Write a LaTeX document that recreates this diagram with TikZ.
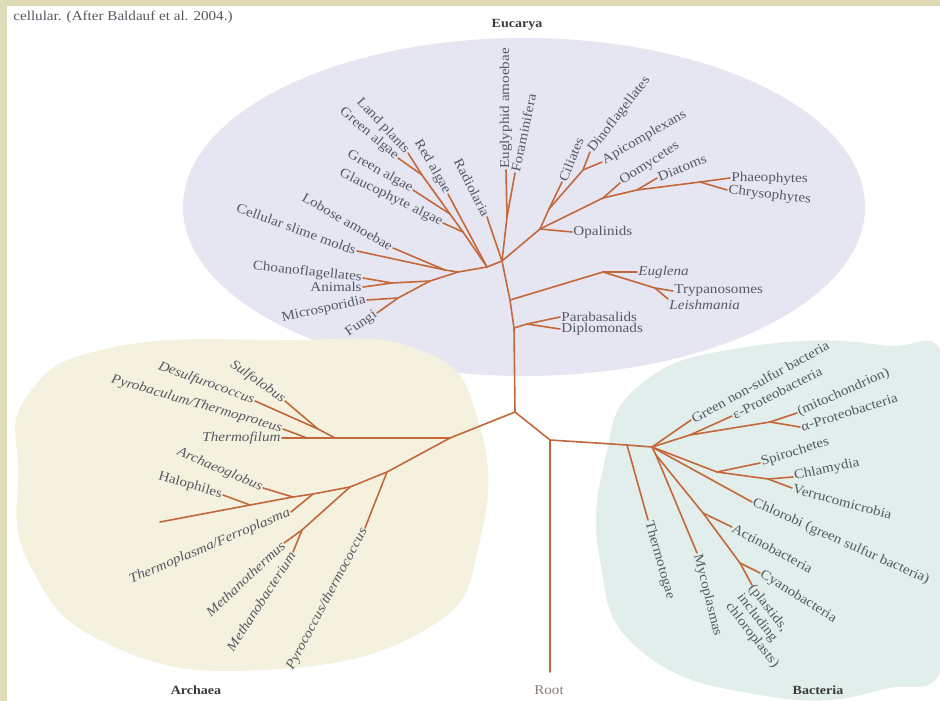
\documentclass[tikz,border=0pt]{standalone}
\usepackage{fontspec}
\setmainfont{Liberation Serif}
\newfontfamily\labfont[FakeStretch=1.12]{Liberation Serif}
\definecolor{branch}{HTML}{C2683A}
\definecolor{labgray}{HTML}{555962}
\definecolor{headgray}{HTML}{3A3A3A}
\definecolor{rootgray}{HTML}{8A7E76}
\definecolor{eukbg}{HTML}{E6E6F2}
\definecolor{arcbg}{HTML}{F4F1DE}
\definecolor{bacbg}{HTML}{E2EEEC}
\definecolor{framea}{HTML}{DEDBB8}
\tikzset{
  br/.style={draw=branch, line width=1.6pt, line cap=round, line join=round},
  lab/.style={font=\labfont\fontsize{13.5}{14.5}\selectfont, text=labgray, inner sep=1.2pt},
  labi/.style={lab, font=\labfont\itshape\fontsize{13.5}{14.5}\selectfont},
  head/.style={font=\labfont\bfseries\fontsize{12.5}{12.5}\selectfont, text=headgray}
}
\begin{document}
\begin{tikzpicture}[x=1pt,y=-1pt]
\useasboundingbox (0,0) rectangle (940,701);
\fill[white] (0,0) rectangle (940,701);
% background blobs
\fill[eukbg] (524,207) ellipse [x radius=341, y radius=169];
\fill[arcbg] plot[smooth cycle, tension=0.8] coordinates {(28,395) (110,348) (280,340) (420,350) (478,420) (480,540) (425,630) (260,670) (110,645) (30,565) (18,470)};
\fill[bacbg] plot[smooth cycle, tension=0.8] coordinates {(640,385) (740,348) (880,345) (950,380) (950,640) (880,690) (760,695) (640,650) (600,560) (605,460)};
% frame
\fill[framea] (0,0) rectangle (940,6);
\fill[framea] (0,0) rectangle (7,701);

% ---------------- coordinates ----------------
\coordinate (ctr) at (515,412);
\coordinate (rj) at (550,440);
\coordinate (rootend) at (550,672);
% Eukarya
\coordinate (t0) at (514,328);
\coordinate (t1) at (510,300);
\coordinate (hub) at (502,261);
\coordinate (pd) at (527,324);
\coordinate (tPara) at (560,317);
\coordinate (tDiplo) at (560,329);
\coordinate (eg1) at (603,272);
\coordinate (tEugl) at (637,272);
\coordinate (eg2) at (655,288);
\coordinate (tTryp) at (673,291);
\coordinate (tLeish) at (668,299);
\coordinate (ef) at (507,217);
\coordinate (tEugly) at (506,170);
\coordinate (tForam) at (515,173);
\coordinate (tRadio) at (487,217);
\coordinate (j2) at (487,267);
\coordinate (tRed) at (448,194);
\coordinate (g1) at (463,232);
\coordinate (tGlauc) at (443,223);
\coordinate (g3) at (450,214);
\coordinate (tGreenB) at (413,190);
\coordinate (g2) at (422,175);
\coordinate (tLand) at (408,153);
\coordinate (tGreenA) at (398,158);
\coordinate (j1) at (458,272);
\coordinate (am) at (445,270);
\coordinate (tLobose) at (393,248);
\coordinate (tSlime) at (357,251);
\coordinate (op) at (430,281);
\coordinate (o2) at (392,283);
\coordinate (tChoano) at (363,278);
\coordinate (tAnim) at (363,287);
\coordinate (o3) at (398,298);
\coordinate (tMicro) at (367,300);
\coordinate (tFungi) at (377,313);
\coordinate (s0) at (540,229);
\coordinate (tOpal) at (572,232);
\coordinate (s1) at (549,209);
\coordinate (tCil) at (562,182);
\coordinate (s2) at (583,170);
\coordinate (tDino) at (590,152);
\coordinate (tApi) at (602,162);
\coordinate (s3) at (603,198);
\coordinate (tOomy) at (620,183);
\coordinate (s4) at (637,190);
\coordinate (tDiat) at (657,178);
\coordinate (s5) at (700,182);
\coordinate (tPhaeo) at (730,178);
\coordinate (tChryso) at (727,190);
% Archaea
\coordinate (a1) at (450,438);
\coordinate (c1) at (335,438);
\coordinate (c2) at (318,429);
\coordinate (c3) at (307,438);
\coordinate (tThfil) at (282,438);
\coordinate (tPyrob) at (283,429);
\coordinate (tDesul) at (255,401);
\coordinate (tSulfo) at (285,401);
\coordinate (e1) at (387,472);
\coordinate (tPyroc) at (365,528);
\coordinate (e2) at (350,487);
\coordinate (e3) at (302,530);
\coordinate (tMthermus) at (284,543);
\coordinate (tMbact) at (293,552);
\coordinate (e4) at (313,494);
\coordinate (tThplas) at (291,512);
\coordinate (e5) at (293,497);
\coordinate (tArchaeo) at (263,488);
\coordinate (e6) at (250,505);
\coordinate (tHalo) at (223,495);
\coordinate (tLong) at (160,522);
% Bacteria
\coordinate (bt1) at (627,445);
\coordinate (tThtoga) at (648,520);
\coordinate (b0) at (652,447);
\coordinate (tGNS) at (691,420);
\coordinate (pr1) at (690,435);
\coordinate (tEps) at (732,416);
\coordinate (pa) at (770,422);
\coordinate (tMito) at (797,413);
\coordinate (tAlpha) at (800,427);
\coordinate (sp1) at (717,472);
\coordinate (tSpiro) at (760,463);
\coordinate (sp2) at (768,479);
\coordinate (tChlam) at (793,477);
\coordinate (tVerru) at (792,488);
\coordinate (tChlorobi) at (752,502);
\coordinate (cy0) at (656,455);
\coordinate (cy1) at (703,513);
\coordinate (tActino) at (732,527);
\coordinate (cy2) at (740,563);
\coordinate (tCyano) at (760,573);
\coordinate (tPlast) at (752,585);
\coordinate (tMyco) at (697,553);

% ---------------- branches ----------------
\draw[br] (rootend) -- (rj) -- (ctr);
\draw[br] (ctr) -- (t0) -- (t1) -- (hub);
\draw[br] (t0) -- (pd) -- (tPara);
\draw[br] (pd) -- (tDiplo);
\draw[br] (t1) -- (eg1) -- (tEugl);
\draw[br] (eg1) -- (eg2) -- (tTryp);
\draw[br] (eg2) -- (tLeish);
\draw[br] (hub) -- (ef) -- (tEugly);
\draw[br] (ef) -- (tForam);
\draw[br] (hub) -- (tRadio);
\draw[br] (hub) -- (j2) -- (tRed);
\draw[br] (j2) -- (g1) -- (tGlauc);
\draw[br] (g1) -- (g3) -- (tGreenB);
\draw[br] (g3) -- (g2) -- (tLand);
\draw[br] (g2) -- (tGreenA);
\draw[br] (j2) -- (j1) -- (am) -- (tLobose);
\draw[br] (am) -- (tSlime);
\draw[br] (j1) -- (op) -- (o2) -- (tChoano);
\draw[br] (o2) -- (tAnim);
\draw[br] (op) -- (o3) -- (tMicro);
\draw[br] (o3) -- (tFungi);
\draw[br] (hub) -- (s0) -- (tOpal);
\draw[br] (s0) -- (s1) -- (tCil);
\draw[br] (s1) -- (s2) -- (tDino);
\draw[br] (s2) -- (tApi);
\draw[br] (s0) -- (s3) -- (tOomy);
\draw[br] (s3) -- (s4) -- (tDiat);
\draw[br] (s4) -- (s5) -- (tPhaeo);
\draw[br] (s5) -- (tChryso);
% Archaea
\draw[br] (ctr) -- (a1) -- (c1) -- (c3) -- (tThfil);
\draw[br] (c3) -- (tPyrob);
\draw[br] (c1) -- (c2) -- (tDesul);
\draw[br] (c2) -- (tSulfo);
\draw[br] (a1) -- (e1) -- (tPyroc);
\draw[br] (e1) -- (e2) -- (e3) -- (tMthermus);
\draw[br] (e3) -- (tMbact);
\draw[br] (e2) -- (e4) -- (e5) -- (e6) -- (tLong);
\draw[br] (e4) -- (tThplas);
\draw[br] (e5) -- (tArchaeo);
\draw[br] (e6) -- (tHalo);
% Bacteria
\draw[br] (rj) -- (bt1) -- (b0);
\draw[br] (bt1) -- (tThtoga);
\draw[br] (b0) -- (tGNS);
\draw[br] (b0) -- (pr1) -- (tEps);
\draw[br] (pr1) -- (pa) -- (tMito);
\draw[br] (pa) -- (tAlpha);
\draw[br] (b0) -- (sp1) -- (tSpiro);
\draw[br] (sp1) -- (sp2) -- (tChlam);
\draw[br] (sp2) -- (tVerru);
\draw[br] (b0) -- (tChlorobi);
\draw[br] (b0) -- (cy0) -- (cy1) -- (tActino);
\draw[br] (cy1) -- (cy2) -- (tCyano);
\draw[br] (cy2) -- (tPlast);
\draw[br] (cy0) -- (tMyco);

% ---------------- labels ----------------
\node[lab, anchor=west] (caption) at (12,17) {cellular. (After Baldauf et al. 2004.)};
\node[head] (hEuk) at (517,25) {Eucarya};
\node[head] (hArc) at (196,690) {Archaea};
\node[head] (hBac) at (818,690) {Bacteria};
\node[lab, text=rootgray] (hRoot) at (549,690) {Root};
% Eukarya
\node[lab, anchor=west] (lPara) at (tPara) {Parabasalids};
\node[lab, anchor=west] (lDiplo) at (tDiplo) {Diplomonads};
\node[labi, anchor=west] (lEugl) at (tEugl) {Euglena};
\node[lab, anchor=west] (lTryp) at (tTryp) {Trypanosomes};
\node[labi, anchor=west] (lLeish) at ([yshift=-6pt]tLeish) {Leishmania};
\node[lab, anchor=west] (lOpal) at (tOpal) {Opalinids};
\node[lab, anchor=west, rotate=90] (lEugly) at (tEugly) {Euglyphid amoebae};
\node[lab, anchor=west, rotate=78] (lForam) at (tForam) {Foraminifera};
\node[lab, anchor=west, rotate=68] (lCil) at (tCil) {Ciliates};
\node[lab, anchor=west, rotate=52] (lDino) at (tDino) {Dinoflagellates};
\node[lab, anchor=west, rotate=30] (lApi) at (tApi) {Apicomplexans};
\node[lab, anchor=west, rotate=33] (lOomy) at (tOomy) {Oomycetes};
\node[lab, anchor=west, rotate=22] (lDiat) at (tDiat) {Diatoms};
\node[lab, anchor=west, rotate=-1] (lPhaeo) at (tPhaeo) {Phaeophytes};
\node[lab, anchor=west, rotate=-7] (lChryso) at (tChryso) {Chrysophytes};
\node[lab, anchor=east, rotate=-63] (lRadio) at (tRadio) {Radiolaria};
\node[lab, anchor=east, rotate=-60] (lRed) at (tRed) {Red algae};
\node[lab, anchor=east, rotate=-47] (lLand) at (tLand) {Land plants};
\node[lab, anchor=east, rotate=-40] (lGreenA) at (tGreenA) {Green algae};
\node[lab, anchor=east, rotate=-29] (lGreenB) at (tGreenB) {Green algae};
\node[lab, anchor=east, rotate=-26] (lGlauc) at (tGlauc) {Glaucophyte algae};
\node[lab, anchor=east, rotate=-30] (lLobose) at (tLobose) {Lobose amoebae};
\node[lab, anchor=east, rotate=-20] (lSlime) at (tSlime) {Cellular slime molds};
\node[lab, anchor=east, rotate=-6] (lChoano) at (tChoano) {Choanoflagellates};
\node[lab, anchor=east] (lAnim) at (tAnim) {Animals};
\node[lab, anchor=east, rotate=12] (lMicro) at (tMicro) {Microsporidia};
\node[lab, anchor=east, rotate=35] (lFungi) at (tFungi) {Fungi};
% Archaea
\node[labi, anchor=east, rotate=-35] (lSulfo) at (tSulfo) {Sulfolobus};
\node[labi, anchor=east, rotate=-20] (lDesul) at (tDesul) {Desulfurococcus};
\node[labi, anchor=east, rotate=-16] (lPyrob) at (tPyrob) {Pyrobaculum/Thermoproteus};
\node[labi, anchor=east] (lThfil) at (tThfil) {Thermofilum};
\node[labi, anchor=east, rotate=-23] (lArchaeo) at (tArchaeo) {Archaeoglobus};
\node[lab, anchor=east, rotate=-16] (lHalo) at (tHalo) {Halophiles};
\node[labi, anchor=east, rotate=23] (lThplas) at (tThplas) {Thermoplasma/Ferroplasma};
\node[labi, anchor=east, rotate=43] (lMthermus) at (tMthermus) {Methanothermus};
\node[labi, anchor=east, rotate=57] (lMbact) at (tMbact) {Methanobacterium};
\node[labi, anchor=east, rotate=62] (lPyroc) at (tPyroc) {Pyrococcus/thermococcus};
% Bacteria
\node[lab, anchor=west, rotate=-74] (lThtoga) at (tThtoga) {Thermotogae};
\node[lab, anchor=west, rotate=29] (lGNS) at (tGNS) {Green non-sulfur bacteria};
\node[lab, anchor=west, rotate=27] (lEps) at (tEps) {ε-Proteobacteria};
\node[lab, anchor=west, rotate=24] (lMito) at (tMito) {(mitochondrion)};
\node[lab, anchor=west, rotate=17] (lAlpha) at (tAlpha) {α-Proteobacteria};
\node[lab, anchor=west, rotate=17] (lSpiro) at (tSpiro) {Spirochetes};
\node[lab, anchor=west, rotate=12] (lChlam) at (tChlam) {Chlamydia};
\node[lab, anchor=west, rotate=-15] (lVerru) at (tVerru) {Verrucomicrobia};
\node[lab, anchor=west, rotate=-24] (lChlorobi) at (tChlorobi) {Chlorobi (green sulfur bacteria)};
\node[lab, anchor=west, rotate=-28] (lActino) at (tActino) {Actinobacteria};
\node[lab, anchor=west, rotate=-32] (lCyano) at (tCyano) {Cyanobacteria};
\node[lab, anchor=north west, rotate=-52, align=left] (lPlast) at ([xshift=4pt,yshift=4pt]tPlast) {(plastids,\\including\\chloroplasts)};
\node[lab, anchor=west, rotate=-76] (lMyco) at (tMyco) {Mycoplasmas};
\end{tikzpicture}
\end{document}
